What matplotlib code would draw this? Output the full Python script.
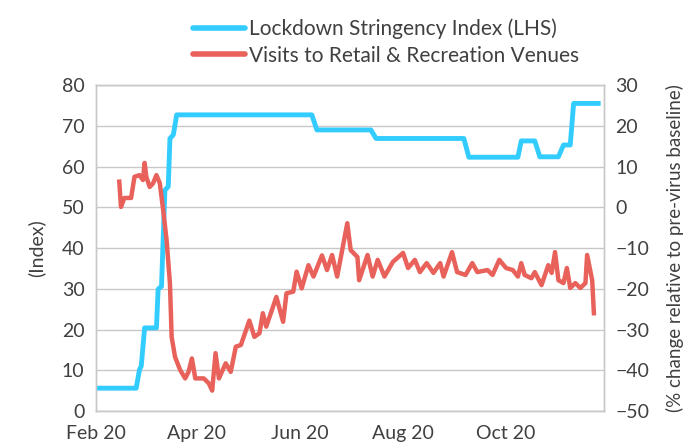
import matplotlib
matplotlib.use('Agg')
import matplotlib.pyplot as plt
import matplotlib.dates as mdates
import numpy as np

plt.rcParams['font.family'] = ['Lato', 'DejaVu Sans']

# Lockdown Stringency Index (LHS)
idx_dates = ['2020-02-01', '2020-02-25', '2020-02-27', '2020-02-28', '2020-03-01', '2020-03-08',
             '2020-03-09', '2020-03-11', '2020-03-13', '2020-03-15', '2020-03-16', '2020-03-18',
             '2020-03-20', '2020-06-08', '2020-06-11', '2020-07-13', '2020-07-16', '2020-09-06',
             '2020-09-09', '2020-10-08', '2020-10-10', '2020-10-18', '2020-10-21', '2020-11-01',
             '2020-11-04', '2020-11-08', '2020-11-10', '2020-11-26']
idx_vals = [5.6, 5.6, 10.2, 11.0, 20.4, 20.4,
            29.9, 30.6, 54.2, 55.1, 66.9, 67.8,
            72.7, 72.7, 69.0, 69.0, 66.9, 66.9,
            62.3, 62.3, 66.3, 66.3, 62.4, 62.4,
            65.3, 65.3, 75.5, 75.5]

# Visits to retail & recreation (% change vs baseline, RHS)
vis_dates = ['2020-02-15', '2020-02-16', '2020-02-18', '2020-02-22', '2020-02-24', '2020-02-27',
             '2020-02-29', '2020-03-01', '2020-03-02', '2020-03-04', '2020-03-06', '2020-03-08',
             '2020-03-10', '2020-03-12', '2020-03-14', '2020-03-16', '2020-03-17', '2020-03-19',
             '2020-03-22', '2020-03-25', '2020-03-27', '2020-03-29', '2020-03-31', '2020-04-05',
             '2020-04-08', '2020-04-10', '2020-04-12', '2020-04-14', '2020-04-18', '2020-04-21',
             '2020-04-24', '2020-04-27', '2020-05-02', '2020-05-05', '2020-05-08', '2020-05-10',
             '2020-05-12', '2020-05-18', '2020-05-22', '2020-05-24', '2020-05-28', '2020-05-30',
             '2020-06-02', '2020-06-06', '2020-06-09', '2020-06-14', '2020-06-17', '2020-06-20',
             '2020-06-23', '2020-06-29', '2020-07-01', '2020-07-05', '2020-07-06', '2020-07-11',
             '2020-07-14', '2020-07-17', '2020-07-21', '2020-07-26', '2020-08-01', '2020-08-04',
             '2020-08-08', '2020-08-11', '2020-08-15', '2020-08-19', '2020-08-23', '2020-08-25',
             '2020-08-30', '2020-09-02', '2020-09-07', '2020-09-11', '2020-09-14', '2020-09-20',
             '2020-09-23', '2020-09-27', '2020-10-01', '2020-10-05', '2020-10-08', '2020-10-10',
             '2020-10-12', '2020-10-16', '2020-10-18', '2020-10-22', '2020-10-26', '2020-10-28',
             '2020-10-30', '2020-11-01', '2020-11-04', '2020-11-06', '2020-11-08', '2020-11-11',
             '2020-11-14', '2020-11-17', '2020-11-18', '2020-11-21', '2020-11-22']
vis_vals = [6.3, 0.1, 2.3, 2.3, 7.5, 7.9,
            6.7, 10.9, 7.5, 5.0, 5.9, 7.9,
            5.9, -0.7, -8.0, -18.7, -31.8, -36.7,
            -39.9, -42.0, -40.4, -37.1, -42.0, -42.0,
            -43.2, -45.0, -35.8, -42.0, -38.3, -40.4,
            -34.2, -33.8, -27.8, -31.8, -30.9, -26.0,
            -29.3, -22.0, -28.1, -21.1, -20.7, -15.8,
            -19.9, -14.2, -17.0, -11.8, -15.4, -11.7,
            -17.0, -3.9, -10.5, -12.2, -17.9, -11.7,
            -17.0, -12.9, -17.0, -13.4, -11.2, -14.9,
            -12.9, -15.9, -13.7, -16.1, -13.7, -17.0,
            -11.0, -15.9, -16.6, -13.7, -15.9, -15.4,
            -16.6, -12.9, -14.9, -15.4, -17.0, -13.7,
            -16.6, -17.4, -15.9, -19.1, -14.2, -16.1,
            -11.0, -17.9, -18.6, -14.9, -19.8, -18.6,
            -19.8, -18.6, -11.7, -17.9, -26.0]

blue = '#33CCFF'
red = '#E8615A'
txt = '#404040'
grid_c = '#C8C8C8'

idx_d = np.array(idx_dates, dtype='datetime64[D]')
vis_d = np.array(vis_dates, dtype='datetime64[D]')

fig = plt.figure(figsize=(6.93, 4.48), dpi=100)
ax = fig.add_axes([0.138, 0.0826, 0.7336, 0.7274])
ax2 = ax.twinx()

l1, = ax.plot(idx_d, idx_vals, color=blue, lw=3.5, solid_capstyle='butt', zorder=3)
l2, = ax2.plot(vis_d, vis_vals, color=red, lw=3.2, zorder=3)

ax.set_ylim(0, 80)
ax.set_yticks(np.arange(0, 81, 10))
ax2.set_ylim(-50, 30)
ax2.set_yticks(np.arange(-50, 31, 10))
ax.set_xlim(np.datetime64('2020-02-01'), np.datetime64('2020-11-28'))
ax.xaxis.set_major_locator(mdates.MonthLocator(bymonth=[2, 4, 6, 8, 10]))
ax.xaxis.set_major_formatter(mdates.DateFormatter('%b %y'))

ax.grid(axis='y', color=grid_c, lw=1)
ax.set_axisbelow(True)
for a in (ax, ax2):
    for s in a.spines.values():
        s.set_color(grid_c)
        s.set_linewidth(1)
    a.tick_params(length=0, labelsize=14, colors=txt, pad=8)
ax.tick_params(axis='x', pad=10)

ax.set_ylabel('(Index)', fontsize=14, color=txt, labelpad=12)
ax2.set_ylabel('(% change relative to pre-virus baseline)', fontsize=13.5, color=txt, labelpad=12)

fig.legend([l1, l2], ['Lockdown Stringency Index (LHS)', 'Visits to Retail & Recreation Venues'],
           loc='upper left', bbox_to_anchor=(0.251, 1.0), frameon=False, fontsize=15,
           handlelength=2.5, handletextpad=0.2, labelspacing=0.3, labelcolor=txt)
for h in fig.legends[0].legend_handles:
    h.set_linewidth(4)
    h.set_solid_capstyle('round')

fig.savefig('out.png', dpi=100)
